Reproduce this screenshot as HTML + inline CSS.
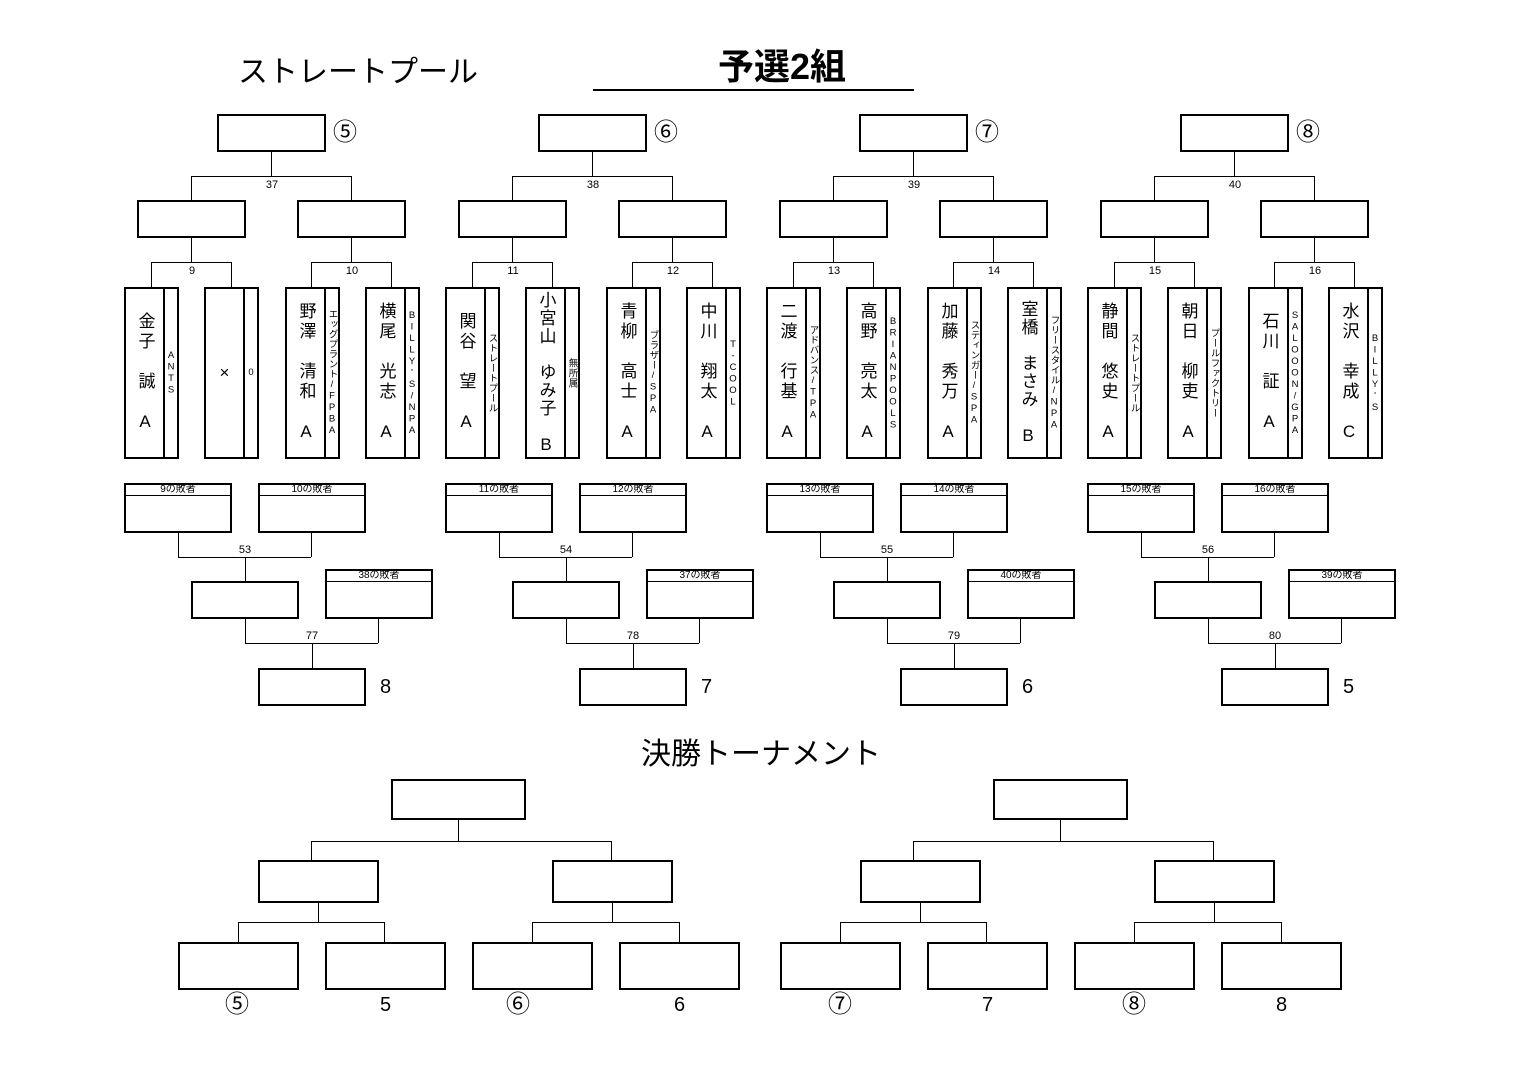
<!DOCTYPE html>
<html><head><meta charset="utf-8"><style>
body{margin:0;background:#fff;}
#p{position:relative;width:1522px;height:1076px;overflow:hidden;background:#fff;font-family:"Liberation Sans","Noto Sans CJK JP",sans-serif;color:#000;}
.g{position:absolute;top:0;width:1522px;height:1076px;}
.b{position:absolute;box-sizing:border-box;border:2px solid #000;background:#fff;}
.h{position:absolute;height:0;border-top:1.5px solid #000;}
.v{position:absolute;width:0;border-left:1.5px solid #000;}
.t{position:absolute;font-size:11px;line-height:12px;width:40px;text-align:center;}
.c{position:absolute;font-size:24px;line-height:30px;}
.n{position:absolute;font-size:20px;line-height:24px;}
.pm{position:absolute;top:287px;width:41px;height:172px;box-sizing:border-box;border:2px solid #000;display:flex;align-items:center;justify-content:center;}
.ps{position:absolute;top:287px;width:15px;height:172px;box-sizing:border-box;border:2px solid #000;border-left:none;display:flex;align-items:center;justify-content:center;}
.nm{writing-mode:vertical-rl;text-orientation:upright;font-size:17px;letter-spacing:3px;line-height:20px;white-space:nowrap;}
.sd{writing-mode:vertical-rl;text-orientation:upright;font-size:9.5px;line-height:10px;letter-spacing:0.5px;white-space:nowrap;}
.lb{position:absolute;top:483px;width:108px;height:50px;box-sizing:border-box;border:2px solid #000;}
.lb div,.lb2 div{height:10px;border-bottom:1.5px solid #000;font-size:10px;line-height:10px;text-align:center;}
.lb2{position:absolute;top:569px;width:108px;height:50px;box-sizing:border-box;border:2px solid #000;}
</style></head><body><div id="p">
<div style="position:absolute;left:238px;top:53px;font-size:30px;line-height:40px;">ストレートプール</div>
<div style="position:absolute;left:700px;top:45px;width:164px;text-align:center;font-size:36px;line-height:44px;font-weight:bold;">予選2組</div>
<div class="h" style="left:593px;top:89px;width:321px;border-top-width:2px"></div>

<!-- group 1 -->
<div class="g" style="left:0">
<div class="b" style="left:217px;top:114px;width:109px;height:38px"></div><div class="c" style="left:333px;top:118px">⑤</div>
<div class="v" style="left:271px;top:151px;height:25px"></div><div class="h" style="left:191px;top:176px;width:160px"></div>
<div class="v" style="left:191px;top:176px;height:24px"></div><div class="v" style="left:351px;top:176px;height:24px"></div>
<div class="t" style="left:252px;top:179px">37</div>
<div class="b" style="left:137px;top:200px;width:109px;height:38px"></div><div class="b" style="left:297px;top:200px;width:109px;height:38px"></div>
<div class="v" style="left:191px;top:237px;height:25px"></div><div class="h" style="left:151px;top:262px;width:80px"></div><div class="v" style="left:151px;top:262px;height:25px"></div><div class="v" style="left:231px;top:262px;height:25px"></div><div class="t" style="left:172px;top:265px">9</div>
<div class="v" style="left:351px;top:237px;height:25px"></div><div class="h" style="left:311px;top:262px;width:80px"></div><div class="v" style="left:311px;top:262px;height:25px"></div><div class="v" style="left:391px;top:262px;height:25px"></div><div class="t" style="left:332px;top:265px">10</div>
<div class="pm" style="left:124px"><span class="nm">金子　誠　A</span></div><div class="ps" style="left:164px"><span class="sd">ANTS</span></div>
<div class="pm" style="left:204px"><span style="font-size:17px">×</span></div><div class="ps" style="left:244px"><span class="sd">0</span></div>
<div class="pm" style="left:285px"><span class="nm">野澤　清和　A</span></div><div class="ps" style="left:325px"><span class="sd">エッグプラント/FPBA</span></div>
<div class="pm" style="left:365px"><span class="nm">横尾　光志　A</span></div><div class="ps" style="left:405px"><span class="sd">BILLY'S/NPA</span></div>
<div class="lb" style="left:124px"><div>9の敗者</div></div><div class="lb" style="left:258px"><div>10の敗者</div></div>
<div class="v" style="left:178px;top:532px;height:25px"></div><div class="v" style="left:311px;top:532px;height:25px"></div><div class="h" style="left:178px;top:557px;width:133px"></div><div class="t" style="left:225px;top:544px">53</div><div class="v" style="left:245px;top:557px;height:24px"></div>
<div class="b" style="left:191px;top:581px;width:108px;height:38px"></div><div class="lb2" style="left:325px"><div>38の敗者</div></div>
<div class="v" style="left:245px;top:618px;height:25px"></div><div class="v" style="left:378px;top:618px;height:25px"></div><div class="h" style="left:245px;top:643px;width:133px"></div><div class="t" style="left:292px;top:630px">77</div><div class="v" style="left:312px;top:643px;height:25px"></div>
<div class="b" style="left:258px;top:668px;width:108px;height:38px"></div><div class="n" style="left:380px;top:675px">8</div>
</div>

<!-- group 2 -->
<div class="g" style="left:321px">
<div class="b" style="left:217px;top:114px;width:109px;height:38px"></div><div class="c" style="left:333px;top:118px">⑥</div>
<div class="v" style="left:271px;top:151px;height:25px"></div><div class="h" style="left:191px;top:176px;width:160px"></div>
<div class="v" style="left:191px;top:176px;height:24px"></div><div class="v" style="left:351px;top:176px;height:24px"></div>
<div class="t" style="left:252px;top:179px">38</div>
<div class="b" style="left:137px;top:200px;width:109px;height:38px"></div><div class="b" style="left:297px;top:200px;width:109px;height:38px"></div>
<div class="v" style="left:191px;top:237px;height:25px"></div><div class="h" style="left:151px;top:262px;width:80px"></div><div class="v" style="left:151px;top:262px;height:25px"></div><div class="v" style="left:231px;top:262px;height:25px"></div><div class="t" style="left:172px;top:265px">11</div>
<div class="v" style="left:351px;top:237px;height:25px"></div><div class="h" style="left:311px;top:262px;width:80px"></div><div class="v" style="left:311px;top:262px;height:25px"></div><div class="v" style="left:391px;top:262px;height:25px"></div><div class="t" style="left:332px;top:265px">12</div>
<div class="pm" style="left:124px"><span class="nm">関谷　望　A</span></div><div class="ps" style="left:164px"><span class="sd">ストレートプール</span></div>
<div class="pm" style="left:204px"><span class="nm" style="letter-spacing:1px">小宮山　ゆみ子　B</span></div><div class="ps" style="left:244px"><span class="sd">無所属</span></div>
<div class="pm" style="left:285px"><span class="nm">青柳　高士　A</span></div><div class="ps" style="left:325px"><span class="sd">ブラザー/SPA</span></div>
<div class="pm" style="left:365px"><span class="nm">中川　翔太　A</span></div><div class="ps" style="left:405px"><span class="sd">T-COOL</span></div>
<div class="lb" style="left:124px"><div>11の敗者</div></div><div class="lb" style="left:258px"><div>12の敗者</div></div>
<div class="v" style="left:178px;top:532px;height:25px"></div><div class="v" style="left:311px;top:532px;height:25px"></div><div class="h" style="left:178px;top:557px;width:133px"></div><div class="t" style="left:225px;top:544px">54</div><div class="v" style="left:245px;top:557px;height:24px"></div>
<div class="b" style="left:191px;top:581px;width:108px;height:38px"></div><div class="lb2" style="left:325px"><div>37の敗者</div></div>
<div class="v" style="left:245px;top:618px;height:25px"></div><div class="v" style="left:378px;top:618px;height:25px"></div><div class="h" style="left:245px;top:643px;width:133px"></div><div class="t" style="left:292px;top:630px">78</div><div class="v" style="left:312px;top:643px;height:25px"></div>
<div class="b" style="left:258px;top:668px;width:108px;height:38px"></div><div class="n" style="left:380px;top:675px">7</div>
</div>

<!-- group 3 -->
<div class="g" style="left:642px">
<div class="b" style="left:217px;top:114px;width:109px;height:38px"></div><div class="c" style="left:333px;top:118px">⑦</div>
<div class="v" style="left:271px;top:151px;height:25px"></div><div class="h" style="left:191px;top:176px;width:160px"></div>
<div class="v" style="left:191px;top:176px;height:24px"></div><div class="v" style="left:351px;top:176px;height:24px"></div>
<div class="t" style="left:252px;top:179px">39</div>
<div class="b" style="left:137px;top:200px;width:109px;height:38px"></div><div class="b" style="left:297px;top:200px;width:109px;height:38px"></div>
<div class="v" style="left:191px;top:237px;height:25px"></div><div class="h" style="left:151px;top:262px;width:80px"></div><div class="v" style="left:151px;top:262px;height:25px"></div><div class="v" style="left:231px;top:262px;height:25px"></div><div class="t" style="left:172px;top:265px">13</div>
<div class="v" style="left:351px;top:237px;height:25px"></div><div class="h" style="left:311px;top:262px;width:80px"></div><div class="v" style="left:311px;top:262px;height:25px"></div><div class="v" style="left:391px;top:262px;height:25px"></div><div class="t" style="left:332px;top:265px">14</div>
<div class="pm" style="left:124px"><span class="nm">二渡　行基　A</span></div><div class="ps" style="left:164px"><span class="sd">アドバンス/TPA</span></div>
<div class="pm" style="left:204px"><span class="nm">高野　亮太　A</span></div><div class="ps" style="left:244px"><span class="sd">BRIANPOOLS</span></div>
<div class="pm" style="left:285px"><span class="nm">加藤　秀万　A</span></div><div class="ps" style="left:325px"><span class="sd">スティンガー/SPA</span></div>
<div class="pm" style="left:365px"><span class="nm" style="letter-spacing:1px">室橋　まさみ　B</span></div><div class="ps" style="left:405px"><span class="sd">フリースタイル/NPA</span></div>
<div class="lb" style="left:124px"><div>13の敗者</div></div><div class="lb" style="left:258px"><div>14の敗者</div></div>
<div class="v" style="left:178px;top:532px;height:25px"></div><div class="v" style="left:311px;top:532px;height:25px"></div><div class="h" style="left:178px;top:557px;width:133px"></div><div class="t" style="left:225px;top:544px">55</div><div class="v" style="left:245px;top:557px;height:24px"></div>
<div class="b" style="left:191px;top:581px;width:108px;height:38px"></div><div class="lb2" style="left:325px"><div>40の敗者</div></div>
<div class="v" style="left:245px;top:618px;height:25px"></div><div class="v" style="left:378px;top:618px;height:25px"></div><div class="h" style="left:245px;top:643px;width:133px"></div><div class="t" style="left:292px;top:630px">79</div><div class="v" style="left:312px;top:643px;height:25px"></div>
<div class="b" style="left:258px;top:668px;width:108px;height:38px"></div><div class="n" style="left:380px;top:675px">6</div>
</div>

<!-- group 4 -->
<div class="g" style="left:963px">
<div class="b" style="left:217px;top:114px;width:109px;height:38px"></div><div class="c" style="left:333px;top:118px">⑧</div>
<div class="v" style="left:271px;top:151px;height:25px"></div><div class="h" style="left:191px;top:176px;width:160px"></div>
<div class="v" style="left:191px;top:176px;height:24px"></div><div class="v" style="left:351px;top:176px;height:24px"></div>
<div class="t" style="left:252px;top:179px">40</div>
<div class="b" style="left:137px;top:200px;width:109px;height:38px"></div><div class="b" style="left:297px;top:200px;width:109px;height:38px"></div>
<div class="v" style="left:191px;top:237px;height:25px"></div><div class="h" style="left:151px;top:262px;width:80px"></div><div class="v" style="left:151px;top:262px;height:25px"></div><div class="v" style="left:231px;top:262px;height:25px"></div><div class="t" style="left:172px;top:265px">15</div>
<div class="v" style="left:351px;top:237px;height:25px"></div><div class="h" style="left:311px;top:262px;width:80px"></div><div class="v" style="left:311px;top:262px;height:25px"></div><div class="v" style="left:391px;top:262px;height:25px"></div><div class="t" style="left:332px;top:265px">16</div>
<div class="pm" style="left:124px"><span class="nm">静間　悠史　A</span></div><div class="ps" style="left:164px"><span class="sd">ストレートプール</span></div>
<div class="pm" style="left:204px"><span class="nm">朝日　柳吏　A</span></div><div class="ps" style="left:244px"><span class="sd">プールファクトリー</span></div>
<div class="pm" style="left:285px"><span class="nm">石川　証　A</span></div><div class="ps" style="left:325px"><span class="sd">SALOOON/GPA</span></div>
<div class="pm" style="left:365px"><span class="nm">水沢　幸成　C</span></div><div class="ps" style="left:405px"><span class="sd">BILLY'S</span></div>
<div class="lb" style="left:124px"><div>15の敗者</div></div><div class="lb" style="left:258px"><div>16の敗者</div></div>
<div class="v" style="left:178px;top:532px;height:25px"></div><div class="v" style="left:311px;top:532px;height:25px"></div><div class="h" style="left:178px;top:557px;width:133px"></div><div class="t" style="left:225px;top:544px">56</div><div class="v" style="left:245px;top:557px;height:24px"></div>
<div class="b" style="left:191px;top:581px;width:108px;height:38px"></div><div class="lb2" style="left:325px"><div>39の敗者</div></div>
<div class="v" style="left:245px;top:618px;height:25px"></div><div class="v" style="left:378px;top:618px;height:25px"></div><div class="h" style="left:245px;top:643px;width:133px"></div><div class="t" style="left:292px;top:630px">80</div><div class="v" style="left:312px;top:643px;height:25px"></div>
<div class="b" style="left:258px;top:668px;width:108px;height:38px"></div><div class="n" style="left:380px;top:675px">5</div>
</div>

<!-- finals -->
<div style="position:absolute;left:641px;top:736px;font-size:30px;line-height:38px;">決勝トーナメント</div>

<div class="g" style="left:0">
<div class="b" style="left:391px;top:779px;width:135px;height:41px"></div>
<div class="v" style="left:458px;top:819px;height:22px"></div><div class="h" style="left:311px;top:841px;width:300px"></div>
<div class="v" style="left:311px;top:841px;height:19px"></div><div class="v" style="left:611px;top:841px;height:19px"></div>
<div class="b" style="left:258px;top:860px;width:121px;height:43px"></div><div class="b" style="left:552px;top:860px;width:121px;height:43px"></div>
<div class="v" style="left:318px;top:902px;height:20px"></div><div class="h" style="left:238px;top:922px;width:146px"></div><div class="v" style="left:238px;top:922px;height:20px"></div><div class="v" style="left:384px;top:922px;height:20px"></div>
<div class="v" style="left:612px;top:902px;height:20px"></div><div class="h" style="left:532px;top:922px;width:147px"></div><div class="v" style="left:532px;top:922px;height:20px"></div><div class="v" style="left:679px;top:922px;height:20px"></div>
<div class="b" style="left:178px;top:942px;width:121px;height:48px"></div><div class="b" style="left:325px;top:942px;width:121px;height:48px"></div>
<div class="b" style="left:472px;top:942px;width:121px;height:48px"></div><div class="b" style="left:619px;top:942px;width:121px;height:48px"></div>
<div class="c" style="left:225px;top:990px">⑤</div><div class="n" style="left:380px;top:993px">5</div>
<div class="c" style="left:506px;top:990px">⑥</div><div class="n" style="left:674px;top:993px">6</div>
</div>
<div class="g" style="left:602px">
<div class="b" style="left:391px;top:779px;width:135px;height:41px"></div>
<div class="v" style="left:458px;top:819px;height:22px"></div><div class="h" style="left:311px;top:841px;width:300px"></div>
<div class="v" style="left:311px;top:841px;height:19px"></div><div class="v" style="left:611px;top:841px;height:19px"></div>
<div class="b" style="left:258px;top:860px;width:121px;height:43px"></div><div class="b" style="left:552px;top:860px;width:121px;height:43px"></div>
<div class="v" style="left:318px;top:902px;height:20px"></div><div class="h" style="left:238px;top:922px;width:146px"></div><div class="v" style="left:238px;top:922px;height:20px"></div><div class="v" style="left:384px;top:922px;height:20px"></div>
<div class="v" style="left:612px;top:902px;height:20px"></div><div class="h" style="left:532px;top:922px;width:147px"></div><div class="v" style="left:532px;top:922px;height:20px"></div><div class="v" style="left:679px;top:922px;height:20px"></div>
<div class="b" style="left:178px;top:942px;width:121px;height:48px"></div><div class="b" style="left:325px;top:942px;width:121px;height:48px"></div>
<div class="b" style="left:472px;top:942px;width:121px;height:48px"></div><div class="b" style="left:619px;top:942px;width:121px;height:48px"></div>
<div class="c" style="left:226px;top:990px">⑦</div><div class="n" style="left:380px;top:993px">7</div>
<div class="c" style="left:520px;top:990px">⑧</div><div class="n" style="left:674px;top:993px">8</div>
</div>
</div></body></html>
